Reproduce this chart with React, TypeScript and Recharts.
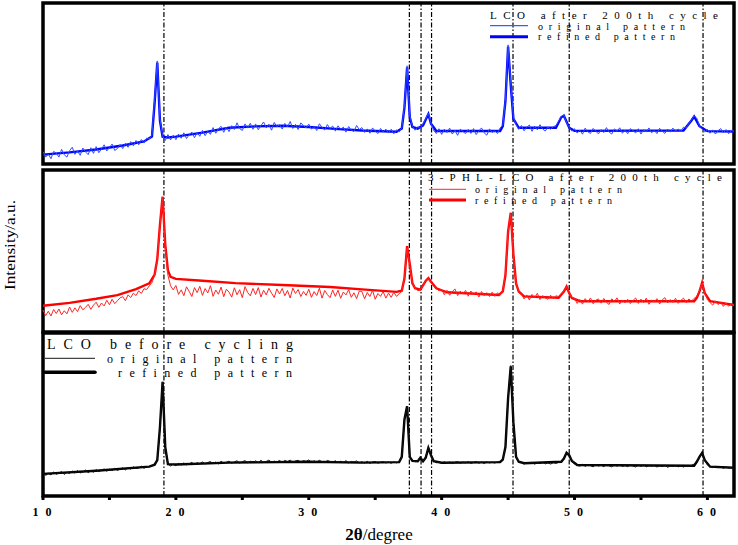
import React from 'react';
import { LineChart, Line, XAxis, YAxis, ReferenceLine, ReferenceArea } from 'recharts';

// 2θ sampling of the measured patterns: 10.0° to 62.0° in 0.2° steps (261 points)
const SCAN_START = 10;
const SCAN_STEP = 0.2;

const xTicks = [10, 15, 20, 25, 30, 35, 40, 45, 50, 55, 60];
const xTickLabels: Record<number, string> = { 10: '1 0', 20: '2 0', 30: '3 0', 40: '4 0', 50: '5 0', 60: '6 0' };
const referencePeaks = [19.1, 37.57, 38.45, 39.24, 45.37, 49.6, 59.67];

// LCO after 200th cycle (blue), observed
const lcoCycledOriginal = [
  7.7, 4.3, 6.1, 3.3, 7.8, 6.7, 4.3, 9.1, 5.7, 4.3,
  8.2, 10.4, 6.0, 8.1, 5.4, 9.9, 7.5, 5.8, 10.1, 6.6,
  10.8, 7.0, 9.3, 11.9, 8.1, 10.3, 12.4, 8.4, 9.6, 12.1,
  9.6, 12.8, 10.4, 13.9, 11.3, 14.6, 11.9, 15.2, 13.0, 16.1,
  15.5, 18.0, 40.0, 64.0, 28.0, 17.5, 14.6, 18.3, 15.0, 17.9,
  15.1, 18.6, 16.0, 19.4, 15.8, 18.2, 19.9, 16.3, 19.6, 17.2,
  20.9, 17.6, 20.3, 18.4, 22.6, 19.1, 21.8, 23.4, 19.7, 22.9,
  20.1, 23.8, 21.4, 25.6, 22.0, 20.8, 24.9, 22.3, 25.3, 21.6,
  24.9, 21.3, 23.8, 26.1, 22.4, 24.7, 21.0, 25.8, 23.1, 24.4,
  21.7, 25.2, 23.0, 26.4, 22.1, 24.6, 21.4, 25.5, 23.9, 22.3,
  24.8, 21.6, 23.4, 20.8, 25.0, 22.7, 21.1, 24.5, 22.0, 23.6,
  20.4, 23.7, 21.5, 22.9, 19.8, 23.3, 21.0, 20.2, 23.9, 21.4,
  22.6, 19.6, 21.8, 19.1, 22.4, 20.5, 18.9, 22.1, 20.0, 21.7,
  19.2, 21.6, 18.7, 21.2, 19.9, 22.5, 36.0, 61.0, 30.0, 23.5,
  21.0, 23.2, 22.0, 25.0, 28.0, 31.5, 25.5, 20.8, 18.9, 21.9,
  18.4, 21.7, 19.5, 22.3, 18.6, 20.9, 17.8, 21.6, 20.2, 18.9,
  21.5, 19.0, 22.0, 18.3, 20.6, 22.4, 19.3, 17.9, 21.8, 19.6,
  20.7, 18.9, 22.4, 24.0, 40.0, 74.0, 50.0, 29.0, 24.6, 21.5,
  23.9, 20.6, 22.8, 24.2, 20.3, 23.5, 21.2, 24.4, 21.7, 20.5,
  23.0, 21.6, 23.2, 23.8, 26.5, 29.5, 30.5, 25.5, 22.8, 20.4,
  21.9, 19.2, 21.0, 18.5, 22.3, 20.0, 19.0, 22.1, 20.4, 18.7,
  21.4, 19.5, 22.6, 19.9, 18.6, 21.8, 20.3, 22.5, 19.1, 21.0,
  18.8, 22.0, 20.7, 19.3, 21.9, 18.6, 21.3, 20.1, 22.4, 19.4,
  20.9, 18.9, 22.2, 20.4, 19.0, 21.7, 19.8, 22.3, 20.5, 21.6,
  20.3, 22.9, 22.4, 25.0, 27.5, 30.0, 28.5, 23.6, 21.8, 19.8,
  21.5, 19.1, 21.2, 18.6, 20.7, 22.0, 19.3, 21.4, 18.8, 20.9,
  20.3,
];

// LCO after 200th cycle (blue), refined [2θ, intensity]
const lcoCycledRefined: [number, number][] = [
  [10, 5.8], [12, 7.2], [14, 9], [16, 11.5], [17.6, 14], [18.2, 17], [18.4, 38], [18.6, 63], [18.8, 27], [19.0, 17],
  [19.4, 16.5], [20, 17], [22, 19.5], [24, 22.5], [26, 23.4], [28, 23.8], [30, 23], [32, 21.8], [34, 20.8], [36.6, 20],
  [37.0, 22], [37.2, 35], [37.4, 60], [37.6, 29], [37.8, 23], [38.2, 22], [38.6, 24], [39.0, 31], [39.2, 25], [39.6, 20.5],
  [44.4, 20.5], [44.6, 23.5], [44.8, 39], [45.0, 73], [45.2, 49], [45.4, 28], [45.8, 22.5], [48.6, 22.5], [49.0, 29], [49.2, 30],
  [49.6, 22.5], [50, 20.6], [58.2, 20.8], [58.8, 27], [59.0, 29.5], [59.4, 23.5], [60, 20.4], [62, 20.2],
];

// 3-PHL-LCO after 200th cycle (red), observed
const phlCycledOriginal = [
  13.6, 10.1, 12.8, 9.9, 13.9, 11.4, 14.2, 10.6, 13.1, 11.2,
  15.4, 12.1, 14.9, 12.6, 16.3, 13.7, 15.2, 17.1, 14.0, 16.6,
  18.4, 15.2, 17.9, 16.1, 19.6, 16.8, 20.2, 17.5, 19.3, 21.1,
  21.8, 19.3, 22.9, 21.2, 24.0, 22.5, 25.4, 23.8, 26.7, 26.2,
  28.5, 30.5, 35.0, 44.0, 65.0, 83.0, 52.0, 35.0, 28.5, 26.0,
  28.7, 23.2, 26.0, 22.4, 27.9, 25.1, 21.9, 27.4, 24.3, 28.2,
  22.6, 26.8, 24.1, 28.6, 22.0, 25.9, 23.3, 27.7, 21.8, 26.4,
  24.6, 21.5, 27.3, 23.0, 26.1, 21.2, 28.0, 24.4, 22.3, 26.9,
  23.1, 27.4, 21.6, 25.8, 22.9, 27.0, 24.0, 21.3, 26.6, 23.5,
  26.9, 22.4, 25.6, 21.0, 27.1, 23.8, 26.2, 21.9, 25.0, 22.6,
  26.4, 21.4, 24.9, 22.5, 27.0, 20.9, 25.6, 23.1, 21.2, 25.9,
  22.0, 25.8, 20.8, 24.7, 22.9, 26.1, 21.4, 24.2, 20.6, 25.3,
  25.0, 20.5, 24.4, 21.9, 25.7, 20.2, 23.8, 22.0, 24.9, 20.9,
  24.0, 21.4, 24.5, 22.0, 23.6, 25.0, 33.0, 52.0, 41.0, 30.0,
  27.0, 25.5, 26.0, 28.8, 31.5, 33.0, 30.5, 28.2, 26.8, 25.5,
  26.3, 23.0, 25.8, 22.7, 24.9, 26.6, 22.5, 25.2, 23.4, 25.7,
  22.1, 25.3, 23.0, 24.8, 21.6, 25.0, 22.4, 24.3, 21.9, 24.6,
  22.0, 24.2, 22.6, 25.5, 36.0, 62.0, 73.0, 47.0, 30.0, 25.0,
  23.6, 20.4, 22.9, 19.8, 23.2, 21.1, 23.9, 20.0, 22.5, 21.0,
  20.2, 22.7, 20.6, 22.4, 21.8, 23.5, 25.5, 28.0, 23.8, 21.2,
  20.8, 17.6, 20.1, 17.2, 20.6, 18.5, 21.0, 17.4, 19.6, 20.4,
  17.8, 20.7, 18.3, 17.0, 20.5, 18.9, 21.1, 17.3, 19.8, 18.0,
  20.2, 17.5, 19.4, 21.0, 17.6, 20.3, 18.1, 20.9, 17.1, 19.7,
  18.4, 20.6, 17.3, 19.9, 21.2, 17.9, 20.0, 18.2, 20.8, 17.7,
  19.5, 20.9, 18.0, 20.4, 19.0, 20.8, 22.0, 25.5, 30.0, 24.0,
  20.0, 18.1, 16.6, 19.2, 16.9, 18.4, 15.8, 17.9, 15.9, 17.4,
  16.3,
];

// 3-PHL-LCO after 200th cycle (red), refined
const phlCycledRefined: [number, number][] = [
  [10, 16.2], [12, 18], [14, 20.5], [15.6, 22.8], [17, 26.5], [18.0, 30], [18.4, 35.5], [18.6, 45], [18.8, 66], [19.0, 83.5],
  [19.2, 54], [19.4, 38], [19.6, 34], [20, 32.8], [22, 31.6], [24.5, 30.2], [28, 29], [31.6, 27.8], [34, 26.3], [36.6, 24.8],
  [37.0, 25.5], [37.2, 33], [37.4, 53], [37.6, 42], [37.8, 30], [38.0, 27], [38.4, 26.2], [38.8, 31.5], [39.0, 33.3], [39.2, 31],
  [39.6, 27], [40.4, 24.5], [44.3, 22.8], [44.6, 25], [44.8, 35], [45.0, 62], [45.2, 73.6], [45.4, 48], [45.6, 30], [45.8, 25],
  [46.2, 22], [48.8, 21.2], [49.2, 25], [49.4, 28], [49.6, 24], [49.8, 21], [50.4, 19], [59.0, 19], [59.2, 21], [59.4, 25],
  [59.6, 30.4], [59.8, 24], [60.2, 19], [62, 16.7],
];

// LCO before cycling (black), observed
const lcoPristineOriginal = [
  14.6, 12.6, 13.9, 12.9, 14.8, 13.3, 14.1, 15.0, 13.2, 14.5,
  13.8, 15.3, 14.0, 15.6, 14.2, 14.6, 15.9, 14.3, 15.5, 14.6,
  16.2, 14.9, 15.8, 16.6, 15.2, 16.4, 15.5, 17.0, 15.7, 16.5,
  17.3, 16.0, 17.4, 16.5, 17.9, 16.8, 17.2, 18.3, 17.0, 18.0,
  18.0, 18.5, 19.2, 22.0, 42.0, 70.0, 30.0, 19.5, 18.4, 19.6,
  18.6, 20.0, 19.0, 20.3, 19.1, 19.8, 20.6, 19.3, 20.4, 19.8,
  20.9, 19.6, 20.6, 21.1, 19.9, 20.8, 19.7, 21.3, 20.2, 20.7,
  21.4, 20.1, 20.9, 21.6, 20.2, 21.0, 21.7, 20.4, 21.3, 20.6,
  21.6, 20.5, 21.9, 20.6, 21.2, 22.0, 20.7, 21.4, 20.9, 21.8,
  20.6, 21.8, 21.1, 22.0, 20.7, 21.5, 21.9, 20.8, 21.7, 21.2,
  22.1, 20.7, 21.5, 20.9, 21.9, 21.0, 20.5, 21.8, 21.2, 20.8,
  21.6, 20.4, 21.3, 20.6, 21.7, 20.3, 21.2, 20.9, 21.5, 20.4,
  21.0, 20.2, 21.3, 20.0, 20.9, 21.2, 20.1, 20.7, 21.1, 20.3,
  20.8, 20.1, 20.9, 20.3, 21.0, 24.0, 47.0, 55.0, 24.0, 21.8,
  21.0, 21.5, 24.0, 21.5, 24.0, 30.0, 25.0, 21.5, 20.4, 20.9,
  20.0, 21.0, 20.2, 20.9, 19.9, 20.7, 21.1, 20.1, 20.8, 20.3,
  21.0, 20.0, 20.6, 21.2, 20.1, 20.8, 19.9, 20.9, 20.3, 20.7,
  20.2, 21.0, 21.3, 22.5, 30.0, 60.0, 80.0, 45.0, 24.0, 21.2,
  20.7, 19.6, 20.4, 20.1, 20.8, 19.5, 20.5, 19.8, 20.6, 19.7,
  20.3, 19.6, 20.4, 20.0, 20.6, 21.2, 23.0, 26.5, 25.0, 22.0,
  19.6, 18.8, 18.3, 19.4, 18.2, 19.1, 18.6, 17.9, 19.2, 18.4,
  18.9, 18.0, 19.3, 18.5, 17.9, 19.0, 18.3, 19.2, 18.1, 18.7,
  18.0, 19.1, 18.4, 17.8, 18.9, 18.2, 19.0, 17.9, 18.6, 18.3,
  18.7, 17.8, 18.5, 18.0, 18.9, 17.6, 18.4, 18.1, 18.6, 17.9,
  18.4, 17.8, 18.5, 18.2, 18.8, 19.6, 21.0, 24.0, 26.6, 22.0,
  19.0, 18.0, 17.4, 18.2, 17.3, 17.9, 17.0, 17.8, 17.2, 17.5,
  17.1,
];

// LCO before cycling (black), refined
const lcoPristineRefined: [number, number][] = [
  [10, 13.6], [14, 15.5], [18, 18], [18.4, 19.2], [18.6, 22], [18.8, 42], [19.0, 70], [19.2, 30], [19.4, 19.5], [20, 19.3],
  [24, 20.5], [30, 21], [34, 20.5], [36.8, 20.8], [37.0, 24], [37.2, 47], [37.4, 55], [37.6, 24], [37.8, 21.5], [38.2, 21.3],
  [38.4, 23.5], [38.6, 21.3], [38.8, 23.5], [39.0, 29.5], [39.2, 25], [39.4, 21.3], [40, 20.4], [44.4, 20.8], [44.6, 22.3], [44.8, 30],
  [45.0, 60], [45.2, 79.5], [45.4, 45], [45.6, 24], [45.8, 21], [46.2, 20.1], [49.0, 21], [49.2, 23], [49.4, 26.5], [49.6, 25],
  [49.8, 21.5], [50.2, 19], [59.0, 18.6], [59.2, 21], [59.4, 24], [59.6, 26.5], [59.8, 22], [60.2, 18], [62, 17.3],
];

const toScan = (vals: number[]) =>
  vals.map((y, i) => ({ x: Math.round((SCAN_START + i * SCAN_STEP) * 10) / 10, y }));
const toPairs = (pairs: [number, number][]) => pairs.map(([x, y]) => ({ x, y }));

const W = 738;
const PLOT_LEFT = 43;
const PLOT_RIGHT = 4;

type PanelProps = {
  top: number;
  height: number;
  marginTop: number;
  marginBottom: number;
  original: number[];
  refined: [number, number][];
  thinColor: string;
  thickColor: string;
  showAxis?: boolean;
};

const AxisTick = (props: any) => {
  const { x, y, payload } = props;
  const label = xTickLabels[payload.value];
  if (!label) return null;
  return (
    <text x={x} y={y + 14} textAnchor="middle" fontFamily="'Liberation Serif', serif" fontWeight="bold" fontSize={12} fill="#000" letterSpacing={2}>
      {label}
    </text>
  );
};

function Panel({ top, height, marginTop, marginBottom, original, refined, thinColor, thickColor, showAxis }: PanelProps) {
  return (
    <div style={{ position: 'absolute', left: 0, top, width: W, height }}>
      <LineChart width={W} height={height} margin={{ top: marginTop, right: PLOT_RIGHT, bottom: marginBottom, left: PLOT_LEFT }}>
        <XAxis
          type="number"
          dataKey="x"
          domain={[10, 62]}
          ticks={xTicks}
          hide={!showAxis}
          height={showAxis ? 545 - 496 : 0}
          axisLine={false}
          tickLine={{ stroke: '#000', strokeWidth: 3 }}
          tickSize={4}
          tick={<AxisTick />}
          interval={0}
        />
        <YAxis type="number" domain={[0, 100]} hide />
        {referencePeaks.map((p) => (
          <ReferenceLine key={p} x={p} stroke="#000" strokeWidth={1.2} strokeDasharray="5 2 1.5 2" />
        ))}
        <Line data={toPairs(refined)} dataKey="y" stroke={thickColor} strokeWidth={2.4} dot={false} isAnimationActive={false} />
        <Line data={toScan(original)} dataKey="y" stroke={thinColor} strokeWidth={1} dot={false} isAnimationActive={false} />
        <ReferenceArea x1={10} x2={62} y1={0} y2={100} fill="none" stroke="#000" strokeWidth={3.5} />
      </LineChart>
    </div>
  );
}

const legendFont = "'Liberation Serif', serif";

export default function App() {
  return (
    <div style={{ position: 'absolute', left: 0, top: 0, width: W, height: 545, background: '#fff' }}>
      <Panel top={0} height={170} marginTop={3} marginBottom={6} original={lcoCycledOriginal} refined={lcoCycledRefined} thinColor="#2a4cff" thickColor="#0000ff" />
      <Panel top={165} height={170} marginTop={5} marginBottom={3} original={phlCycledOriginal} refined={phlCycledRefined} thinColor="#ff2424" thickColor="#ff0000" />
      <Panel top={320} height={225} marginTop={13} marginBottom={0} original={lcoPristineOriginal} refined={lcoPristineRefined} thinColor="#111" thickColor="#000" showAxis />
      <svg width={W} height={545} style={{ position: 'absolute', left: 0, top: 0, pointerEvents: 'none' }}>
        {/* top legend */}
        <text x={490} y={19} fontFamily={legendFont} fontSize={11} textLength={228} lengthAdjust="spacing">LCO after 200th cycle</text>
        <line x1={490} x2={528} y1={25.7} y2={25.7} stroke="#3a5cff" strokeWidth={1.2} />
        <text x={538} y={29.5} fontFamily={legendFont} fontSize={10} textLength={147} lengthAdjust="spacing">original pattern</text>
        <line x1={490} x2={528} y1={36.7} y2={36.7} stroke="#0000ff" strokeWidth={3} />
        <text x={538} y={40.3} fontFamily={legendFont} fontSize={10} textLength={137} lengthAdjust="spacing">refined pattern</text>
        {/* middle legend */}
        <text x={428} y={180.5} fontFamily={legendFont} fontSize={11} textLength={294} lengthAdjust="spacing">3-PHL-LCO after 200th cycle</text>
        <line x1={429} x2={466} y1={189.3} y2={189.3} stroke="#ff5050" strokeWidth={1.2} />
        <text x={475} y={192.7} fontFamily={legendFont} fontSize={10} textLength={147} lengthAdjust="spacing">original pattern</text>
        <line x1={429} x2={466} y1={200} y2={200} stroke="#ff0000" strokeWidth={3} />
        <text x={475} y={203.5} fontFamily={legendFont} fontSize={10} textLength={137} lengthAdjust="spacing">refined pattern</text>
        {/* bottom legend */}
        <text x={47} y={349} fontFamily={legendFont} fontSize={14} textLength={246} lengthAdjust="spacing">LCO before cycling</text>
        <line x1={45} x2={95} y1={358.3} y2={358.3} stroke="#444" strokeWidth={1.2} />
        <text x={107} y={362.5} fontFamily={legendFont} fontSize={12} textLength={185} lengthAdjust="spacing">original pattern</text>
        <line x1={45} x2={95} y1={372.3} y2={372.3} stroke="#000" strokeWidth={3.5} strokeLinecap="round" />
        <text x={118} y={376.5} fontFamily={legendFont} fontSize={12} textLength={174} lengthAdjust="spacing">refined pattern</text>
        {/* axis titles */}
        <text x={12} y={245} transform="rotate(-90 12 245)" textAnchor="middle" dominantBaseline="middle" fontFamily={legendFont} fontSize={14} textLength={90} lengthAdjust="spacingAndGlyphs">Intensity/a.u.</text>
        <text x={379} y={540} textAnchor="middle" fontFamily={legendFont} fontSize={17}>
          <tspan fontWeight="bold">2θ</tspan>
          <tspan>/degree</tspan>
        </text>
      </svg>
    </div>
  );
}
